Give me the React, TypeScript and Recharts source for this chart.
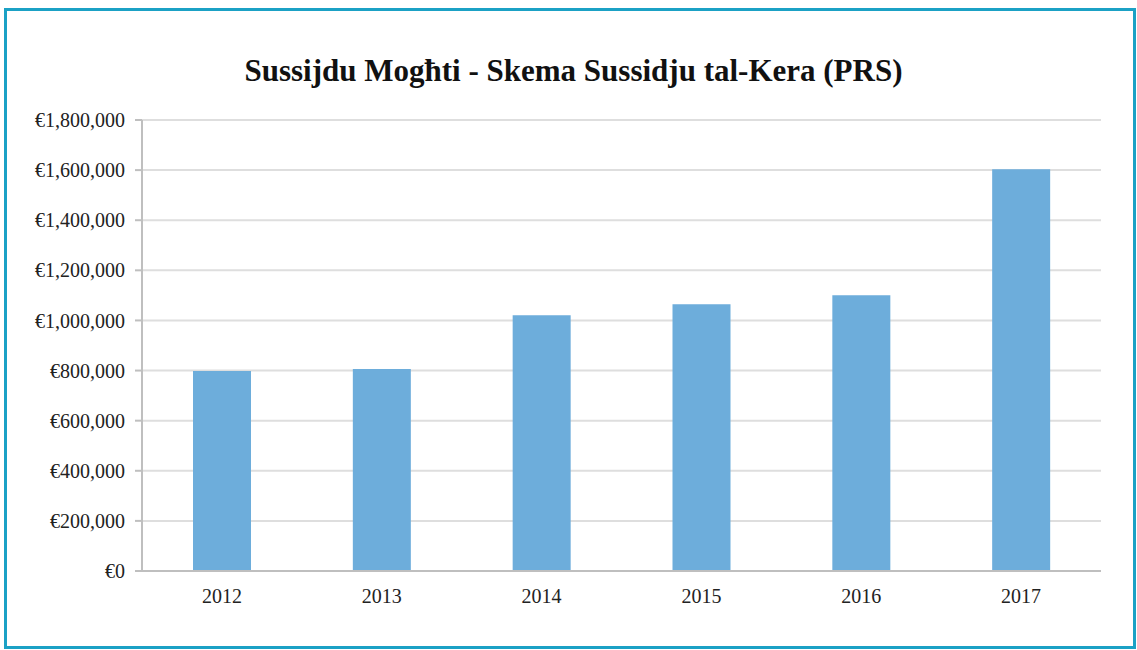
import React from 'react';
import { BarChart, Bar, XAxis, YAxis, CartesianGrid } from 'recharts';

const years = ['2012', '2013', '2014', '2015', '2016', '2017'];
const amounts = [798000, 806000, 1021000, 1065000, 1101000, 1603000];
const yTicks = [0, 200000, 400000, 600000, 800000, 1000000, 1200000, 1400000, 1600000, 1800000];

const data = years.map((year, i) => ({ year, amount: amounts[i] }));

const euro = (v: number) => '€' + v.toLocaleString('en-US');

export default function App() {
  return (
    <div style={{ position: 'absolute', left: 0, top: 0, width: 1137, height: 650, background: '#fff' }}>
      {/* frame */}
      <div
        style={{
          position: 'absolute',
          left: 4,
          top: 8,
          width: 1126,
          height: 635,
          border: '3px solid #1ba1c5',
        }}
      />
      {/* title */}
      <div
        style={{
          position: 'absolute',
          left: 0,
          top: 53,
          width: 1147,
          textAlign: 'center',
          fontFamily: '"Liberation Serif", serif',
          fontWeight: 'bold',
          fontSize: 31,
          color: '#111',
        }}
      >
        Sussijdu Mogħti - Skema Sussidju tal-Kera (PRS)
      </div>
      <div style={{ position: 'absolute', left: 0, top: 0 }}>
        <BarChart
          width={1137}
          height={650}
          data={data}
          margin={{ top: 120, right: 36, bottom: 49, left: 0 }}
        >
          <CartesianGrid vertical={false} stroke="#dedede" strokeWidth={2} />
          <XAxis
            dataKey="year"
            height={30}
            tickLine={false}
            tickSize={0}
            tickMargin={18}
            axisLine={{ stroke: '#bfbfbf', strokeWidth: 2 }}
            tick={{ fill: '#222', fontSize: 20, fontFamily: '"Liberation Serif", serif' }}
          />
          <YAxis
            width={142}
            domain={[0, 1800000]}
            ticks={yTicks}
            tickFormatter={euro}
            tickSize={7}
            tickMargin={10}
            axisLine={{ stroke: '#bfbfbf', strokeWidth: 2 }}
            tickLine={{ stroke: '#bfbfbf', strokeWidth: 2 }}
            tick={{ fill: '#222', fontSize: 20, fontFamily: '"Liberation Serif", serif' }}
          />
          <Bar dataKey="amount" fill="#6daddb" barSize={58} isAnimationActive={false} />
        </BarChart>
      </div>
    </div>
  );
}
